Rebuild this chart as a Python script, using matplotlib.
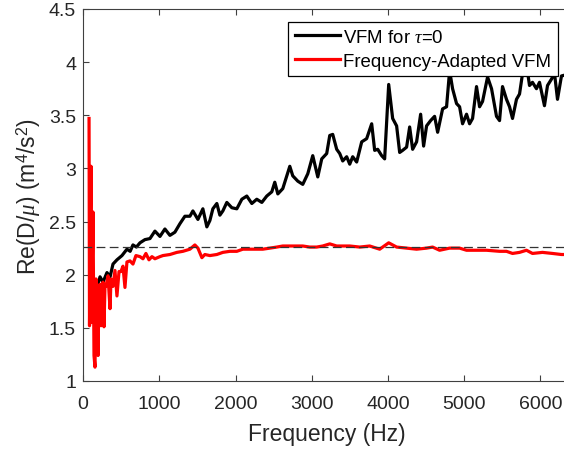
import matplotlib
matplotlib.use("Agg")
import matplotlib.pyplot as plt
import numpy as np

plt.rcParams['font.family'] = ['Liberation Sans', 'DejaVu Sans']
plt.rcParams['mathtext.fontset'] = 'custom'
plt.rcParams['mathtext.rm'] = 'Liberation Sans'
plt.rcParams['mathtext.it'] = 'Liberation Serif:italic'

# ---- data ----
freq_black = [157, 190, 223, 262, 314, 355, 393, 445, 511, 576, 618, 655, 700, 747, 812, 878,
              943, 1009, 1074, 1140, 1205, 1271, 1336, 1402, 1441, 1507, 1572, 1624, 1664, 1703,
              1755, 1795, 1834, 1886, 1952, 2017, 2083, 2148, 2214, 2279, 2345, 2410, 2476, 2515,
              2555, 2620, 2712, 2751, 2817, 2882, 2948, 3013, 3079, 3131, 3196, 3236, 3275, 3327,
              3367, 3406, 3458, 3498, 3537, 3589, 3655, 3720, 3786, 3825, 3865, 3917, 3956, 4009,
              4061, 4113, 4153, 4192, 4244, 4284, 4323, 4375, 4428, 4467, 4506, 4559, 4611, 4651,
              4716, 4768, 4808, 4847, 4899, 4939, 4978, 5030, 5070, 5109, 5161, 5201, 5240, 5306,
              5358, 5423, 5463, 5502, 5554, 5594, 5633, 5685, 5725, 5764, 5816, 5856, 5895, 5947,
              5987, 6052, 6092, 6144, 6183, 6223, 6275, 6330, 6400]
vfm_tau0 = [1.94, 1.90, 1.98, 1.93, 2.02, 1.98, 2.10, 2.14, 2.18, 2.24, 2.22, 2.28, 2.26, 2.30, 2.33, 2.34,
            2.41, 2.36, 2.43, 2.37, 2.40, 2.48, 2.55, 2.55, 2.60, 2.52, 2.62, 2.45, 2.51, 2.62,
            2.67, 2.56, 2.60, 2.68, 2.63, 2.62, 2.71, 2.74, 2.67, 2.71, 2.68, 2.74, 2.78, 2.87,
            2.76, 2.81, 3.02, 2.93, 2.88, 2.85, 2.95, 3.12, 2.92, 3.09, 3.14, 3.31, 3.32, 3.18,
            3.14, 3.07, 3.11, 3.04, 3.11, 3.06, 3.25, 3.28, 3.42, 3.17, 3.18, 3.12, 3.09, 3.79,
            3.47, 3.40, 3.15, 3.17, 3.20, 3.39, 3.18, 3.25, 3.51, 3.21, 3.40, 3.45, 3.49, 3.34,
            3.56, 3.58, 3.92, 3.75, 3.61, 3.58, 3.42, 3.51, 3.42, 3.47, 3.77, 3.58, 3.63, 3.86,
            3.75, 3.49, 3.45, 3.77, 3.65, 3.58, 3.47, 3.65, 3.70, 3.89, 3.98, 3.78, 3.81, 3.75,
            3.81, 3.59, 3.78, 3.84, 3.90, 3.65, 3.87, 3.88, 3.85]

freq_red = [79, 85, 105, 111, 131, 144, 157, 170, 183, 197, 210, 223, 236, 249, 262, 275, 288, 301,
            328, 354, 367, 393, 419, 445, 472, 498, 524, 550, 576, 616, 655, 694, 747, 786, 825,
            865, 904, 943, 1009, 1048, 1140, 1231, 1310, 1402, 1467, 1507, 1559, 1598, 1664, 1755,
            1834, 1926, 2017, 2096, 2188, 2279, 2358, 2450, 2541, 2620, 2712, 2803, 2882, 2974,
            3065, 3144, 3236, 3327, 3406, 3498, 3629, 3760, 3891, 4009, 4113, 4244, 4375, 4506,
            4585, 4677, 4808, 4939, 5030, 5161, 5292, 5463, 5554, 5633, 5725, 5816, 5895, 6026,
            6157, 6275, 6330, 6400]
freq_adapted = [3.47, 1.52, 3.02, 1.55, 2.59, 1.24, 1.13, 1.96, 1.70, 1.24, 1.90, 1.91, 1.52, 1.85,
                1.93, 1.51, 1.90, 1.89, 1.99, 1.68, 1.96, 1.89, 2.04, 1.80, 2.03, 2.03, 2.08, 1.88,
                2.12, 2.13, 2.10, 2.18, 2.17, 2.15, 2.20, 2.14, 2.17, 2.15, 2.17, 2.18, 2.19, 2.21,
                2.22, 2.24, 2.28, 2.25, 2.16, 2.19, 2.18, 2.19, 2.21, 2.22, 2.22, 2.24, 2.24, 2.24,
                2.24, 2.25, 2.26, 2.27, 2.27, 2.27, 2.27, 2.26, 2.26, 2.27, 2.29, 2.27, 2.27, 2.27,
                2.26, 2.27, 2.24, 2.30, 2.26, 2.25, 2.24, 2.25, 2.26, 2.23, 2.25, 2.25, 2.23, 2.23,
                2.23, 2.22, 2.22, 2.20, 2.21, 2.23, 2.20, 2.21, 2.20, 2.19, 2.19, 2.19]

reference_value = 2.26
x_ticks = [0, 1000, 2000, 3000, 4000, 5000, 6000]
y_ticks = [1, 1.5, 2, 2.5, 3, 3.5, 4, 4.5]
y_tick_labels = ['1', '1.5', '2', '2.5', '3', '3.5', '4', '4.5']
labels = ['VFM for $\\tau$=0', 'Frequency-Adapted VFM']

# ---- figure ----
fig = plt.figure(figsize=(5.64, 4.52), dpi=100)
ax = fig.add_axes([0.1472, 0.1549, 0.8652, 0.823])

ax.plot(freq_black, vfm_tau0, color='black', lw=2.3, label=labels[0], solid_joinstyle='round')
ax.plot(freq_red, freq_adapted, color='#ff0000', lw=2.3, label=labels[1], solid_joinstyle='round')
ax.axhline(reference_value, color='#333333', lw=0.9, dashes=(7, 3.5))

ax.set_xlim(0, 6400)
ax.set_ylim(1, 4.5)
ax.set_xticks(x_ticks)
ax.set_xticklabels([str(t) for t in x_ticks])
ax.set_yticks(y_ticks)
ax.set_yticklabels(y_tick_labels)

spine_c = '#404040'
for s in ax.spines.values():
    s.set_color(spine_c)
    s.set_linewidth(0.8)
ax.tick_params(direction='in', length=4, width=0.8, colors=spine_c, labelcolor='#262626',
               labelsize=14, top=True, right=True)
ax.tick_params(axis='x', pad=10)
ax.tick_params(axis='y', pad=5)

ax.set_xlabel('Frequency (Hz)', fontsize=16.5, color='#262626', labelpad=7)
ax.set_ylabel('Re(D/$\\mu$) (m$^{\\mathrm{4}}$/s$^{\\mathrm{2}}$)', fontsize=16.5, color='#262626', labelpad=4)

leg = ax.legend(loc='upper right', bbox_to_anchor=(0.973, 0.965), borderaxespad=0,
                fontsize=13.4, fancybox=False, edgecolor='black', framealpha=1,
                handlelength=2.4, handletextpad=0.2, borderpad=0.35, labelspacing=0.38)
leg.get_frame().set_linewidth(0.9)

fig.savefig('out.png', dpi=100)
